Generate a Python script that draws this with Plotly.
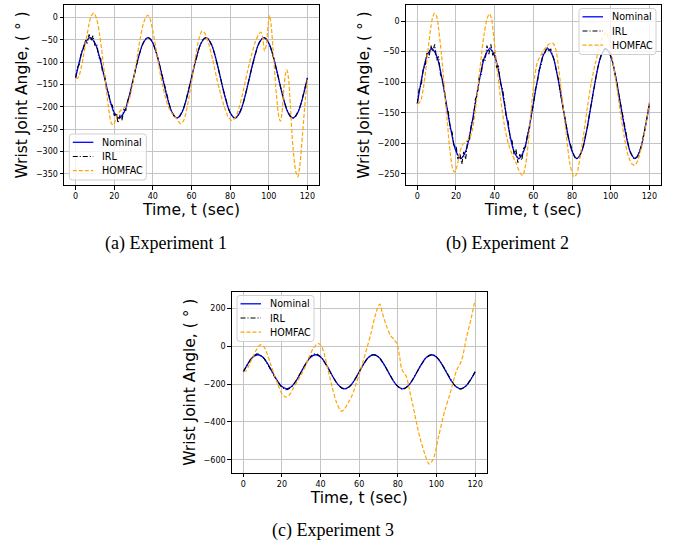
import plotly.graph_objects as go

# ---------------- data ----------------
# Nominal wrist trajectory, sampled every 2.5 s (same reference for all runs)
NOM_T = [i * 2.5 for i in range(49)]
NOMINAL = [-135, -90, -57, -45, -57, -90, -135, -180, -213, -225, -213, -180,
           -135, -90, -57, -45, -57, -90, -135, -180, -213, -225, -213, -180,
           -135, -90, -57, -45, -57, -90, -135, -180, -213, -225, -213, -180,
           -135, -90, -57, -45, -57, -90, -135, -180, -213, -225, -213, -180,
           -135]

# IRL controller response, sampled every second
IRL_T = list(range(121))
IRL_EXP1 = [-135, -112, -104, -76, -72, -50, -58, -38, -52, -41, -62, -60, -90, -92, -124,
            -128, -160, -165, -194, -196, -220, -214, -236, -218, -230, -206, -208, -186, -174, -153,
            -135, -116, -98, -82, -68, -57, -49, -46, -46, -49, -57, -68, -82, -98, -116,
            -135, -154, -172, -188, -202, -213, -221, -225, -225, -221, -213, -202, -188, -172, -154,
            -135, -116, -98, -82, -68, -57, -49, -46, -46, -49, -57, -68, -82, -98, -116,
            -135, -154, -172, -188, -202, -213, -221, -225, -225, -221, -213, -202, -188, -172, -154,
            -135, -116, -98, -82, -68, -57, -49, -46, -46, -49, -57, -68, -82, -98, -116,
            -135, -154, -172, -188, -202, -213, -221, -225, -225, -221, -213, -202, -188, -172, -154,
            -135]
IRL_EXP2 = [-135, -110, -106, -78, -74, -52, -60, -40, -50, -38, -64, -58, -88, -94, -112,
            -140, -148, -176, -182, -206, -204, -226, -216, -234, -214, -226, -196, -194, -166, -160,
            -128, -122, -92, -88, -62, -66, -40, -54, -38, -56, -50, -76, -74, -102, -110,
            -130, -158, -164, -192, -196, -218, -210, -232, -218, -228, -208, -206, -184, -176, -150,
            -138, -112, -102, -80, -72, -54, -52, -42, -48, -46, -56, -66, -84, -96, -118,
            -134, -156, -170, -190, -200, -214, -220, -226, -224, -222, -212, -203, -186, -173, -152,
            -136, -115, -99, -80, -69, -56, -50, -45, -47, -48, -58, -67, -83, -97, -117,
            -134, -155, -171, -189, -201, -214, -220, -226, -224, -222, -212, -203, -187, -171, -155,
            -135]
IRL_EXP3 = [-135, -118, -100, -80, -66, -54, -46, -40, -42, -47, -56, -68, -84, -100, -119,
            -138, -158, -176, -192, -206, -217, -225, -230, -229, -224, -215, -203, -189, -172, -152,
            -133, -113, -95, -78, -63, -52, -44, -40, -41, -46, -55, -67, -82, -99, -117,
            -136, -155, -173, -189, -203, -214, -222, -226, -226, -222, -214, -203, -189, -173, -155,
            -136, -116, -98, -82, -68, -57, -49, -45, -45, -49, -57, -68, -82, -98, -116,
            -135, -154, -172, -188, -202, -213, -221, -226, -226, -221, -213, -202, -188, -172, -154,
            -135, -116, -98, -82, -68, -57, -49, -46, -46, -49, -57, -68, -82, -98, -116,
            -135, -154, -172, -188, -202, -213, -221, -226, -226, -221, -213, -202, -188, -172, -154,
            -135]

# HOMFAC controller response (irregular sample times)
HOM1_T = [0, 1, 2, 3, 4, 5, 6, 7, 8, 9.5, 11, 12.5, 14, 15.5, 17, 18.5, 19.5, 20.5, 22, 24,
          26, 27.5, 29, 30.5, 32, 33.5, 35, 36.5, 37.5, 38.5, 40, 42, 44, 46, 48, 50, 52, 54.5,
          56, 58, 60, 62, 64, 65.5, 67, 69, 71, 73, 75, 77, 79, 81, 83, 85, 87, 89, 91, 93, 95,
          96, 97, 97.8, 98.8, 99.7, 100.4, 101.3, 102.5, 104, 105.2, 106, 106.8, 107.8, 108.7,
          109.4, 110.2, 111.2, 112.5, 114, 115, 116, 117.5, 119, 120]
HOM1_V = [-135, -136, -128, -110, -88, -62, -38, -14, 3, 10, -5, -40, -90, -145, -200, -237,
          -240, -232, -215, -205, -200, -188, -160, -125, -85, -45, -15, 2, 5, -3, -30, -80,
          -130, -170, -200, -215, -225, -238, -230, -195, -145, -90, -45, -30, -36, -60, -95,
          -135, -170, -200, -222, -231, -222, -196, -160, -120, -85, -55, -36, -33, -50, -75,
          -60, -15, 5, -20, -90, -175, -222, -232, -215, -160, -125, -117, -135, -200, -290,
          -345, -357, -335, -260, -180, -140]

HOM2_T = [0, 1, 2, 3, 4, 5, 6, 7, 8, 9, 10, 11, 12.5, 14, 15.5, 17, 18.5, 19.5, 20.5, 22,
          23.5, 25, 27, 28.5, 30, 31.5, 33, 34.5, 36, 37.3, 38.3, 39.5, 41, 43, 45, 47, 49, 51,
          53, 54.5, 56, 57.5, 59, 60.5, 62, 64, 66, 68, 70, 71.5, 73, 75, 77, 79, 81, 82.5, 84,
          86, 88, 90, 92, 94, 96, 97.5, 99, 101, 103, 105, 107, 109, 111, 112.5, 114, 116, 118,
          120]
HOM2_V = [-135, -134, -128, -112, -90, -62, -35, -10, 7, 13, 8, -12, -55, -110, -165, -215,
          -244, -247, -238, -215, -202, -198, -192, -178, -145, -105, -60, -22, 3, 12, 5, -25,
          -70, -125, -170, -200, -218, -232, -248, -253, -235, -195, -140, -95, -68, -55, -45,
          -38, -36, -45, -75, -130, -185, -235, -255, -250, -225, -185, -140, -100, -70, -45,
          -25, -18, -30, -65, -105, -150, -190, -220, -234, -236, -228, -205, -172, -133]

HOM3_T = [0, 1.5, 3, 5, 7, 9, 10.5, 12, 14, 16, 18, 20, 22, 24, 26, 28, 30, 32, 34, 36, 38,
          39, 40.5, 42, 44, 46, 48, 50, 51, 52.5, 54.5, 56.5, 58.5, 60, 62, 64, 66, 68, 70,
          70.7, 72, 74, 76, 78, 79.5, 81, 82, 84.5, 86, 88, 90, 91.5, 94, 96.2, 98.3, 101,
          104.3, 107, 110.4, 113, 115.6, 118, 120]
HOM3_V = [-135, -130, -100, -55, -15, 8, 0, -30, -90, -150, -205, -250, -269, -255, -220,
          -185, -150, -110, -60, -15, 10, 14, 0, -45, -130, -215, -290, -335, -344, -330, -295,
          -255, -195, -150, -80, -10, 65, 150, 215, 222, 175, 110, 60, 35, 15, -60, -120, -163,
          -230, -322, -420, -485, -570, -622, -597, -482, -340, -251, -128, -75, 49, 150, 244]

X_TICKS = [0, 20, 40, 60, 80, 100, 120]
SERIES_NAMES = ["Nominal", "IRL", "HOMFAC"]
CAPTIONS = ["(a) Experiment 1", "(b) Experiment 2", "(c) Experiment 3"]

# ---------------- styles ----------------
W, H = 680, 544
STYLES = [
    dict(color="#0000ff", width=1.3, dash="solid"),
    dict(color="#000000", width=1.1, dash="5px,2px,1px,2px"),
    dict(color="#ffa500", width=1.2, dash="4px,2px"),
]

fig = go.Figure()

panels = [
    dict(irl=IRL_EXP1, ht=HOM1_T, hv=HOM1_V, xa="x", ya="y"),
    dict(irl=IRL_EXP2, ht=HOM2_T, hv=HOM2_V, xa="x2", ya="y2"),
    dict(irl=IRL_EXP3, ht=HOM3_T, hv=HOM3_V, xa="x3", ya="y3"),
]

for p in panels:
    fig.add_trace(go.Scatter(x=NOM_T, y=NOMINAL, name=SERIES_NAMES[0], mode="lines",
                             line=dict(STYLES[0], shape="spline"),
                             xaxis=p["xa"], yaxis=p["ya"], showlegend=False))
    fig.add_trace(go.Scatter(x=IRL_T, y=p["irl"], name=SERIES_NAMES[1], mode="lines",
                             line=STYLES[1],
                             xaxis=p["xa"], yaxis=p["ya"], showlegend=False))
    fig.add_trace(go.Scatter(x=p["ht"], y=p["hv"], name=SERIES_NAMES[2], mode="lines",
                             line=dict(STYLES[2], shape="spline", smoothing=0.8),
                             xaxis=p["xa"], yaxis=p["ya"], showlegend=False))

tick_font = dict(family="DejaVu Sans", size=8, color="#000000")
title_font = dict(family="DejaVu Sans", size=15.5, color="#000000")
axis_common = dict(showline=True, linecolor="#000000", linewidth=1, mirror=True,
                   ticks="outside", ticklen=3.5, tickwidth=0.8, tickcolor="#000000",
                   showgrid=True, gridcolor="#c4c4c4", gridwidth=1.3, zeroline=False,
                   tickfont=tick_font)

def xaxis(domain, anchor):
    return dict(axis_common, domain=domain, anchor=anchor, range=[-6, 126],
                tickvals=X_TICKS, title=dict(text="Time, t (sec)", font=title_font, standoff=3))

def yaxis(domain, anchor, rng, dtick):
    return dict(axis_common, domain=domain, anchor=anchor, range=rng, dtick=dtick,
                title=dict(text="Wrist Joint Angle, ( ° )", font=title_font, standoff=4))

fig.update_layout(
    width=W, height=H, margin=dict(l=0, r=0, t=0, b=0),
    paper_bgcolor="#ffffff", plot_bgcolor="#ffffff", showlegend=False,
    xaxis=xaxis([64 / W, 319 / W], "y"),
    yaxis=yaxis([1 - 185 / H, 1 - 5 / H], "x", [-375, 28], 50),
    xaxis2=xaxis([405.7 / W, 661 / W], "y2"),
    yaxis2=yaxis([1 - 185 / H, 1 - 5 / H], "x2", [-268.4, 26.4], 50),
    xaxis3=xaxis([231.7 / W, 486.7 / W], "y3"),
    yaxis3=yaxis([1 - 472.7 / H, 1 - 291.7 / H], "x3", [-668, 288], 200),
)


# compact matplotlib-style legend boxes (pixel layout -> paper coordinates)
def px(x):
    return x / W


def py(y):
    return 1 - y / H


def add_legend(left, top, width=77, height=46, r=3):
    l, t, rr, b = left, top, left + width, top + height
    path = (f"M {px(l + r)},{py(t)} L {px(rr - r)},{py(t)} Q {px(rr)},{py(t)} {px(rr)},{py(t + r)} "
            f"L {px(rr)},{py(b - r)} Q {px(rr)},{py(b)} {px(rr - r)},{py(b)} "
            f"L {px(l + r)},{py(b)} Q {px(l)},{py(b)} {px(l)},{py(b - r)} "
            f"L {px(l)},{py(t + r)} Q {px(l)},{py(t)} {px(l + r)},{py(t)} Z")
    fig.add_shape(type="path", path=path, xref="paper", yref="paper", layer="above",
                  fillcolor="rgba(255,255,255,0.8)", line=dict(color="#d0d0d0", width=1))
    for i, (name, st) in enumerate(zip(SERIES_NAMES, STYLES)):
        yy = top + 8.3 + i * 14.2
        fig.add_shape(type="line", xref="paper", yref="paper", layer="above",
                      x0=px(left + 3.5), x1=px(left + 24), y0=py(yy), y1=py(yy),
                      line=dict(color=st["color"], width=st["width"], dash=st["dash"]))
        fig.add_annotation(text=name, x=px(left + 31), y=py(yy), xref="paper", yref="paper",
                           showarrow=False, xanchor="left", yanchor="middle",
                           font=dict(family="DejaVu Sans", size=9.6, color="#000000"))


add_legend(69.3, 134)
add_legend(579, 8.5)
add_legend(237, 295.5)

# sub-figure captions
caption_pos = [(165.8, 244), (507.5, 244), (333.3, 530)]
for text, (cx, cy) in zip(CAPTIONS, caption_pos):
    fig.add_annotation(text=text, x=px(cx), y=py(cy), xref="paper", yref="paper",
                       showarrow=False, xanchor="center", yanchor="middle",
                       font=dict(family="Liberation Serif", size=18, color="#000000"))

fig.write_html("out.html")
